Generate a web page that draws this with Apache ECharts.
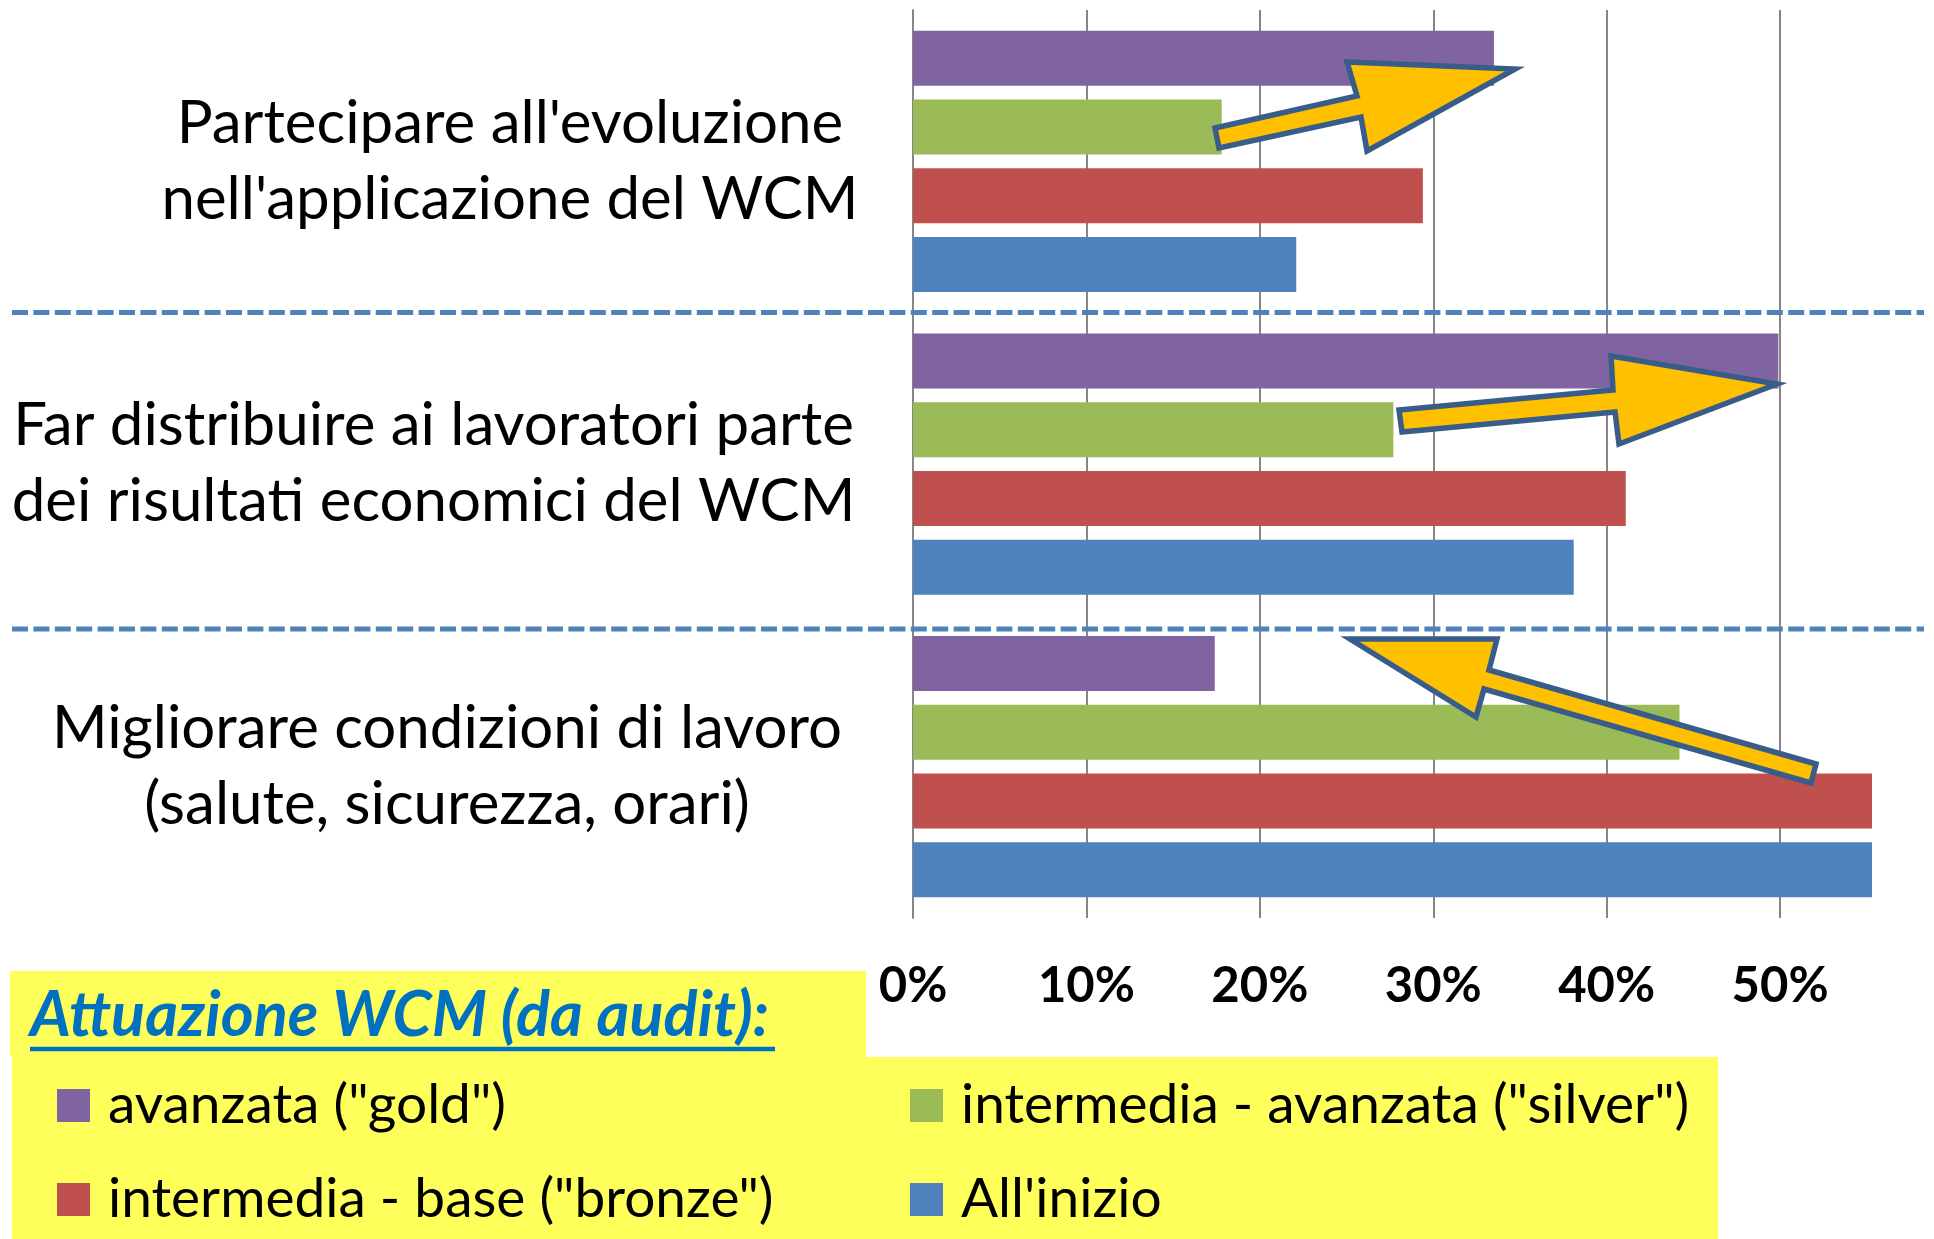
<!DOCTYPE html>
<html>
<head>
<meta charset="utf-8">
<script src="https://cdn.jsdelivr.net/npm/echarts@6/dist/echarts.min.js"></script>
<style>
  html, body { margin: 0; padding: 0; background: #fff; }
  #main { width: 1934px; height: 1239px; }
</style>
</head>
<body>
<div id="main"></div>
<script>
// categorie (dall'alto verso il basso)
var categories = [
    "Partecipare all'evoluzione\nnell'applicazione del WCM",
    "Far distribuire ai lavoratori parte\ndei risultati economici del WCM",
    "Migliorare condizioni di lavoro\n(salute, sicurezza, orari)"
];
var seriesNames = ['avanzata ("gold")', 'intermedia - avanzata ("silver")', 'intermedia - base ("bronze")', "All'inizio"];
// valori in %
var gold = [33.5, 49.9, 17.4];
var silver = [17.8, 27.7, 44.2];
var bronze = [29.4, 41.1, 55.3];
var inizio = [22.1, 38.1, 55.3];
var colors = ['#8064A2', '#9BBB59', '#C0504D', '#4F81BD'];

var font = 'Lato';
var labelShift = [0, 153, 126]; // sposta il centro delle etichette

var rich = {};
labelShift.forEach(function (p, i) {
    rich['c' + i] = {
        fontFamily: font, fontSize: 60, lineHeight: 76, color: '#000',
        align: 'center', padding: [0, p, 0, 0]
    };
});

function bar(name, data, color) {
    return {
        name: name,
        type: 'bar',
        barWidth: 55,
        barGap: '25%',
        data: data,
        itemStyle: { color: color }
    };
}

function arrow(points) {
    return {
        type: 'polygon',
        z: 100,
        shape: { points: points },
        style: { fill: '#FFC000', stroke: '#385D8A', lineWidth: 5.5, lineJoin: 'miter' }
    };
}

function dashed(y) {
    return {
        type: 'line',
        z: 50,
        shape: { x1: 12, y1: y, x2: 1924, y2: y },
        style: { stroke: '#4F81BD', lineWidth: 5, lineDash: [16, 5.4] }
    };
}

var legendText = { fontFamily: font, fontSize: 55, color: '#000', padding: [0, 0, 0, 13] };

function legend(names, left) {
    return {
        data: names,
        orient: 'vertical',
        left: left,
        top: 1078,
        padding: 0,
        icon: 'rect',
        itemWidth: 33,
        itemHeight: 33,
        itemGap: 39,
        z: 10,
        textStyle: legendText
    };
}

option = {
    animation: false,
    backgroundColor: '#fff',
    color: colors,
    title: {
        text: 'Attuazione WCM (da audit):',
        left: 30,
        top: 984,
        padding: 0,
        z: 10,
        textStyle: { fontFamily: font, fontSize: 63, fontWeight: 'bold', fontStyle: 'italic', color: '#0070C0' }
    },
    legend: [
        legend([seriesNames[0], seriesNames[2]], 57),
        legend([seriesNames[1], seriesNames[3]], 910)
    ],
    grid: { left: 913, right: 62, top: 10, bottom: 321 },
    xAxis: {
        type: 'value',
        min: 0,
        max: 55.3,
        interval: 10,
        axisLine: { show: false },
        axisTick: { show: false },
        splitLine: { show: true, showMaxLine: false, lineStyle: { color: '#868686', width: 2 } },
        axisLabel: {
            formatter: '{value}%',
            showMaxLabel: false,
            fontFamily: font, fontSize: 49, fontWeight: 'bold', color: '#000',
            lineHeight: 49, margin: 44
        }
    },
    yAxis: {
        type: 'category',
        inverse: true,
        data: categories,
        axisLine: { show: true, lineStyle: { color: '#868686', width: 2 } },
        axisTick: { show: false },
        axisLabel: {
            interval: 0,
            margin: 403,
            align: 'center',
            formatter: function (value, index) { return '{c' + index + '|' + value + '}'; },
            rich: rich
        }
    },
    series: [
        bar(seriesNames[0], gold, colors[0]),
        bar(seriesNames[1], silver, colors[1]),
        bar(seriesNames[2], bronze, colors[2]),
        bar(seriesNames[3], inizio, colors[3])
    ],
    graphic: [
        { type: 'rect', z: 0, shape: { x: 10, y: 971, width: 856, height: 86 }, style: { fill: '#FFFF5C' } },
        { type: 'rect', z: 0, shape: { x: 12, y: 1057, width: 1706, height: 182 }, style: { fill: '#FFFF5C' } },
        { type: 'line', z: 20, shape: { x1: 30, y1: 1049, x2: 775, y2: 1049 }, style: { stroke: '#0070C0', lineWidth: 4.5 } },
        dashed(312.5),
        dashed(629),
        arrow([[1215, 128], [1357, 96], [1347, 62], [1515, 69], [1367, 151], [1361, 117], [1219, 148]]),
        arrow([[1399, 410], [1613, 390], [1611, 356], [1777, 384], [1619, 444], [1615, 412], [1402, 432]]),
        arrow([[1816, 764], [1489, 670], [1497, 639], [1350, 639], [1476, 717], [1484, 689], [1811, 783]])
    ]
};

var myChart = echarts.init(document.getElementById('main'));
myChart.setOption(option);
</script>
</body>
</html>
